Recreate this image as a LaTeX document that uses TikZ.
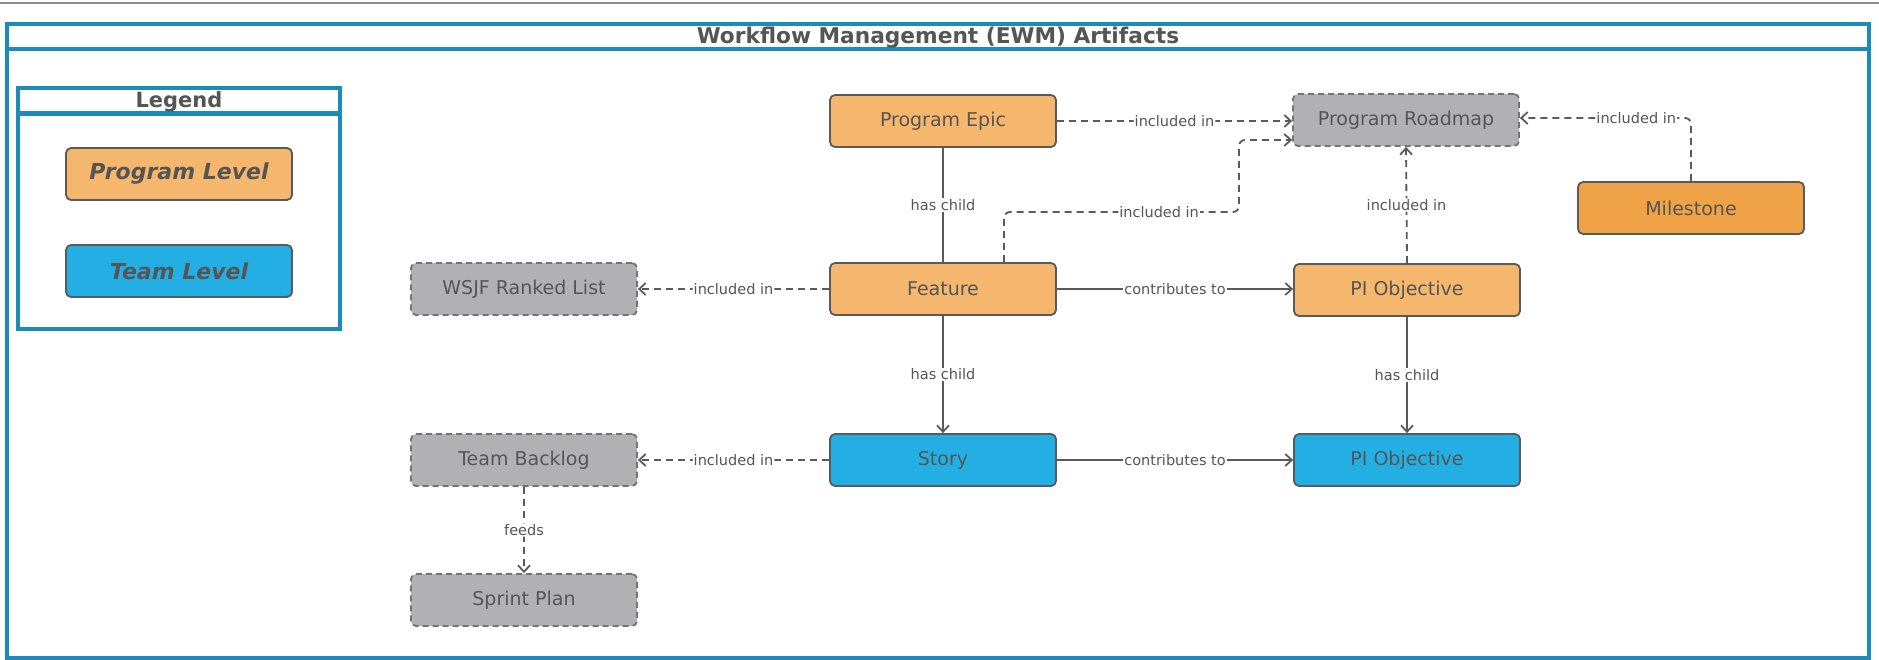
\documentclass[tikz,border=0pt]{standalone}
\usepackage{fontspec}
\setmainfont{DejaVu Sans}[BoldFont={DejaVu Sans Bold},ItalicFont={DejaVu Sans Oblique},BoldItalicFont={DejaVu Sans Bold Oblique}]
\usetikzlibrary{arrows.meta}
\definecolor{frameblue}{HTML}{1B8BBB}
\definecolor{progfill}{HTML}{F5B66E}
\definecolor{milefill}{HTML}{F0A246}
\definecolor{teamfill}{HTML}{23AFE3}
\definecolor{grayfill}{HTML}{B1B1B3}
\definecolor{nodeborder}{HTML}{5A5A5A}
\definecolor{txt}{HTML}{555555}
\definecolor{topline}{HTML}{8C8C8C}
\begin{document}
\begin{tikzpicture}[x=1pt,y=-1pt,
  box/.style={draw=nodeborder,line width=1.8pt,rounded corners=5pt,minimum width=226pt,minimum height=52pt,inner sep=0pt,text=txt,font=\fontsize{19}{23}\selectfont},
  prog/.style={box,fill=progfill},
  team/.style={box,fill=teamfill},
  mile/.style={box,fill=milefill},
  art/.style={box,fill=grayfill,draw=nodeborder!85,dash pattern=on 6pt off 4pt},
  legbox/.style={box,font=\fontsize{22}{26}\selectfont\bfseries\itshape},
  frame/.style={draw=frameblue,line width=4.5pt},
  ttl/.style={text=txt,font=\fontsize{21.7}{26}\selectfont\bfseries,inner sep=0pt},
  lbl/.style={fill=white,text=txt,inner sep=1pt,font=\fontsize{14.5}{17}\selectfont},
  rel/.style={draw=nodeborder,line width=1.8pt,-{Straight Barb[length=6.5pt,width=12pt]}},
  plain/.style={draw=nodeborder,line width=1.8pt},
  dep/.style={draw=nodeborder,line width=1.8pt,dash pattern=on 7pt off 5pt,rounded corners=6pt,-{Straight Barb[length=6.5pt,width=12pt]}}
]
\useasboundingbox (0,0) rectangle (1879,660);
\fill[white] (0,0) rectangle (1879,660);
% top separator line
\draw[topline,line width=2pt] (0,3) -- (1879,3);
% outer frame
\draw[frame] (7,24) rectangle (1869,658);
\draw[frame] (7,49) -- (1869,49);
\node[ttl] (title) at (938,37.5) {Workflow Management (EWM) Artifacts};
% legend
\draw[frame] (18,88) rectangle (340,329);
\draw[frame] (18,113.5) -- (340,113.5);
\node[ttl,font=\fontsize{21}{25}\selectfont\bfseries] (legtitle) at (179,101.5) {Legend};
\node[legbox,fill=progfill] (legprog) at (179,174) {Program Level};
\node[legbox,fill=teamfill] (legteam) at (179,271) {Team Level};
% artifacts
\node[prog] (epic) at (943,121) {Program Epic};
\node[prog] (feature) at (943,289) {Feature};
\node[team] (story) at (943,460) {Story};
\node[art] (wsjf) at (524,289) {WSJF Ranked List};
\node[art] (backlog) at (524,460) {Team Backlog};
\node[art] (sprint) at (524,600) {Sprint Plan};
\node[art] (roadmap) at (1406,120) {Program Roadmap};
\node[prog] (piobj) at (1407,290) {PI Objective};
\node[team] (piobjteam) at (1407,460) {PI Objective};
\node[mile] (milestone) at (1691,208) {Milestone};
% connectors
\draw[dep] (epic.east) -- node[lbl]{included in} (epic.east -| roadmap.west);
\draw[dep] ([xshift=61pt]feature.north) |- node[lbl,pos=0.83]{included in} (1239,212) |- ([yshift=-20pt]roadmap.west);
\draw[dep] (piobj.north) -- node[lbl]{included in} (roadmap.south);
\draw[dep] (milestone.north) |- node[lbl,pos=0.66]{included in} ([yshift=2pt]roadmap.east);
\draw[plain] (epic.south) -- node[lbl]{has child} (feature.north);
\draw[rel] (feature.south) -- node[lbl]{has child} (story.north);
\draw[rel] (feature.east) -- node[lbl]{contributes to} (feature.east -| piobj.west);
\draw[dep] (feature.west) -- node[lbl]{included in} (wsjf.east);
\draw[dep] (story.west) -- node[lbl]{included in} (backlog.east);
\draw[rel] (story.east) -- node[lbl]{contributes to} (piobjteam.west);
\draw[rel] (piobj.south) -- node[lbl]{has child} (piobjteam.north);
\draw[dep] (backlog.south) -- node[lbl]{feeds} (sprint.north);
\end{tikzpicture}
\end{document}
